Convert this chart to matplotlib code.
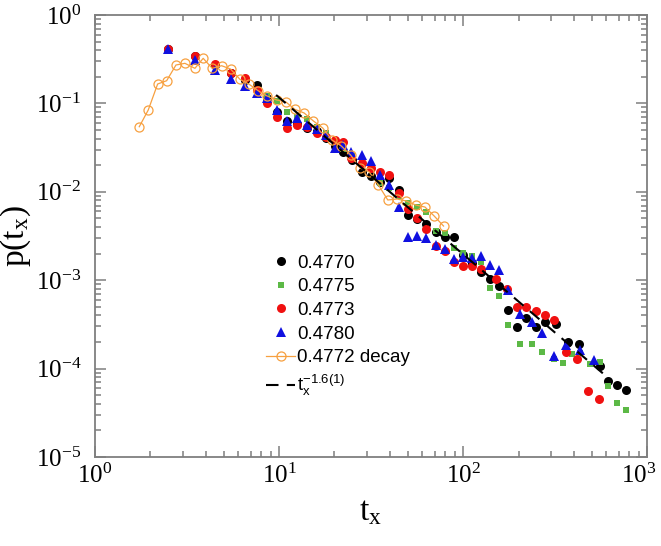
import numpy as np
import matplotlib.pyplot as plt
import matplotlib.transforms as mtransforms
from matplotlib.ticker import LogLocator, NullFormatter

# p(t_x), one list pair per series
x_4770 = [2.5, 3.49, 4.48, 5.47, 6.52, 7.55, 8.55, 9.73, 11.07, 12.5, 14.2, 16.0, 18.0, 20.1,
          22.3, 24.8, 28.05, 31.4, 35.3, 39.6, 44.7, 50.2, 56.2, 63.2, 71.0, 79.5, 88.9, 99.9,
          112.3, 125.7, 139.5, 156.6, 175.3, 196.7, 220.7, 247.9, 277.3, 321, 371.1, 425.8,
          551.6, 611.8, 684.5, 770]
y_4770 = [0.412, 0.344, 0.272, 0.221, 0.184, 0.1615, 0.1151, 0.0806, 0.0632, 0.0585, 0.0527,
          0.0487, 0.0406, 0.033, 0.0282, 0.0229, 0.0169, 0.0151, 0.0129, 0.0142, 0.0105,
          0.00546, 0.00493, 0.00432, 0.00354, 0.00311, 0.00306, 0.00193, 0.00157, 0.00124,
          0.00102, 0.00087, 0.00046, 0.000298, 0.000371, 0.000298, 0.000339, 0.00032,
          0.000201, 0.000188, 0.000107, 0.0000724, 0.0000653, 0.0000573]

x_4775 = [8.55, 9.73, 11.07, 12.5, 14.2, 16.0, 18.0, 20.1, 22.3, 24.8, 28.05, 31.4, 35.3, 39.6,
          44.7, 50.2, 56.2, 63.2, 71.0, 79.5, 88.9, 99.9, 112.3, 125.7, 139.5, 156.6, 175.3,
          204.2, 236.6, 269.6, 310.4, 348.5, 392.1, 433.4, 486.9, 551.6, 611.8, 684.5, 770]
y_4775 = [0.1222, 0.1073, 0.0793, 0.0707, 0.0661, 0.0541, 0.0463, 0.0376, 0.0305, 0.0254,
          0.0219, 0.0184, 0.0127, 0.011, 0.00897, 0.00747, 0.00678, 0.00595, 0.0036,
          0.00345, 0.00234, 0.00203, 0.00188, 0.00162, 0.00081, 0.000668, 0.000311,
          0.000188, 0.00019, 0.000155, 0.000127, 0.000117, 0.000146, 0.000151, 0.000113,
          0.000119, 0.0000636, 0.0000411, 0.000034]

x_4773 = [2.5, 3.49, 4.48, 5.47, 6.52, 7.55, 8.55, 9.73, 11.07, 12.5, 14.2, 16.0, 18.0, 20.1,
          22.3, 24.75, 28.05, 31.4, 35.3, 39.6, 44.7, 50.2, 56.2, 63.2, 71.0, 79.5, 88.9, 99.9,
          112.3, 125.7, 151.6, 173.1, 196.7, 220.7, 247.9, 277.3, 310.4, 360.6, 415.3, 476.5,
          546.8]
y_4773 = [0.41, 0.344, 0.277, 0.2225, 0.1923, 0.1417, 0.1003, 0.0697, 0.0531, 0.057, 0.0539,
          0.0463, 0.0417, 0.0385, 0.0369, 0.0239, 0.0212, 0.0186, 0.0169, 0.0155, 0.00962,
          0.00639, 0.00501, 0.00376, 0.00244, 0.00214, 0.00162, 0.00146, 0.00145, 0.00134,
          0.00102, 0.000795, 0.000494, 0.000501, 0.000452, 0.000404, 0.000359, 0.000155,
          0.000127, 0.0000562, 0.0000449]

x_4780 = [2.5, 3.49, 4.48, 5.47, 6.52, 7.55, 8.55, 9.73, 11.07, 12.5, 14.2, 16.0, 18.0, 20.1,
          22.3, 24.75, 28.05, 31.4, 35.3, 39.6, 44.7, 50.2, 56.2, 63.2, 71.0, 79.5, 88.9, 99.9,
          112.3, 125.7, 139.5, 156.6, 175.3, 204.2, 236.6, 269.6, 310.4, 360.6, 433.4, 511.7]
y_4780 = [0.412, 0.31, 0.2386, 0.1874, 0.1573, 0.1301, 0.1142, 0.0842, 0.0637, 0.0678, 0.057,
          0.0512, 0.0439, 0.031, 0.0338, 0.0284, 0.0261, 0.0225, 0.0155, 0.0119, 0.00678,
          0.00311, 0.0032, 0.003, 0.00247, 0.00228, 0.00175, 0.00184, 0.00177, 0.00188,
          0.0015, 0.0013, 0.000785, 0.000415, 0.000339, 0.000251, 0.000139, 0.000185,
          0.000162, 0.000125]

x_decay = [1.74, 1.947, 2.19, 2.451, 2.753, 3.08, 3.491, 3.871, 4.334, 4.874, 5.454, 6.127,
           6.882, 7.7, 8.552, 9.691, 10.85, 12.18, 13.69, 15.38, 17.27, 19.4, 21.79, 24.47,
           27.5, 30.88, 34.69, 38.97, 43.77, 49.16, 55.23, 62.02, 69.66, 78.28]
y_decay = [0.0545, 0.0842, 0.1658, 0.1806, 0.2719, 0.2842, 0.2494, 0.3236, 0.2494, 0.267,
           0.2449, 0.1874, 0.1645, 0.1392, 0.1222, 0.1093, 0.1045, 0.0857, 0.0779, 0.0632,
           0.0527, 0.0385, 0.033, 0.0261, 0.0186, 0.0168, 0.0119, 0.00808, 0.00829, 0.00787,
           0.00709, 0.00673, 0.00532, 0.0041]

# power-law guide
fit_x = [9.64, 574]
fit_y = [0.1245, 8.85e-5]

plt.rcParams['font.family'] = 'Liberation Serif'
plt.rcParams['mathtext.fontset'] = 'stix'

fig = plt.figure(figsize=(6.61, 5.46), dpi=100)
ax = fig.add_axes([0.1437, 0.163, 0.8354, 0.8095])

ax.plot(x_4770, y_4770, 'o', color='black', ms=6.5, mew=0, label='0.4770')
ax.plot(x_4775, y_4775, 's', color='#5cb946', ms=5, mew=0, label='0.4775')
ax.plot(x_4773, y_4773, 'o', color='#f01010', ms=6.5, mew=0, label='0.4773')
ax.plot(x_4780, y_4780, '^', color='#1010e0', ms=7, mew=0, label='0.4780')
ax.plot(x_decay, y_decay, '-o', color='#f7a040', ms=6.5, mfc='none', mew=0.9, lw=0.9,
        label='0.4772 decay')
ax.plot(fit_x, fit_y, '--', color='black', lw=1.5, dashes=(6, 4),
        label=r'$\mathregular{t_x^{-1.6(1)}}$')

ax.set_xscale('log')
ax.set_yscale('log')
ax.set_xlim(1, 1000)
ax.set_ylim(1e-5, 1)

ax.xaxis.set_major_locator(LogLocator(base=10, numticks=10))
ax.yaxis.set_major_locator(LogLocator(base=10, numticks=10))
ax.xaxis.set_minor_locator(LogLocator(base=10, subs=np.arange(2, 10), numticks=20))
ax.yaxis.set_minor_locator(LogLocator(base=10, subs=np.arange(2, 10), numticks=20))
ax.xaxis.set_minor_formatter(NullFormatter())
ax.yaxis.set_minor_formatter(NullFormatter())

for s in ax.spines.values():
    s.set_color('#7f7f7f')
    s.set_linewidth(1.3)
ax.tick_params(which='both', direction='in', top=True, right=True, color='#7f7f7f', width=1.1)
ax.tick_params(which='major', length=8, labelsize=18)
ax.tick_params(axis='y', which='major', pad=10)
ax.tick_params(axis='x', which='major', pad=5)
ax.tick_params(which='minor', length=4.5)

ax.set_xlabel(r't$_\mathregular{x}$', fontsize=24, labelpad=6)
ax.set_ylabel(r'p(t$_\mathregular{x}$)', fontsize=24)
ax.yaxis.set_label_coords(-0.112, 0.5)

leg = ax.legend(loc='upper left', bbox_to_anchor=(0.297, 0.475), frameon=False,
                prop={'family': 'Liberation Sans', 'size': 13.5}, handlelength=1.5,
                handletextpad=0.15, labelspacing=0.35, borderaxespad=0)

# nudge the 10^3 label so it stays inside the figure
fig.canvas.draw()
last = [t for t in ax.get_xticklabels() if t.get_position()[0] >= 999][0]
last.set_transform(last.get_transform() + mtransforms.ScaledTranslation(-6 / 72, 0, fig.dpi_scale_trans))

plt.savefig('out.png', dpi=100)
